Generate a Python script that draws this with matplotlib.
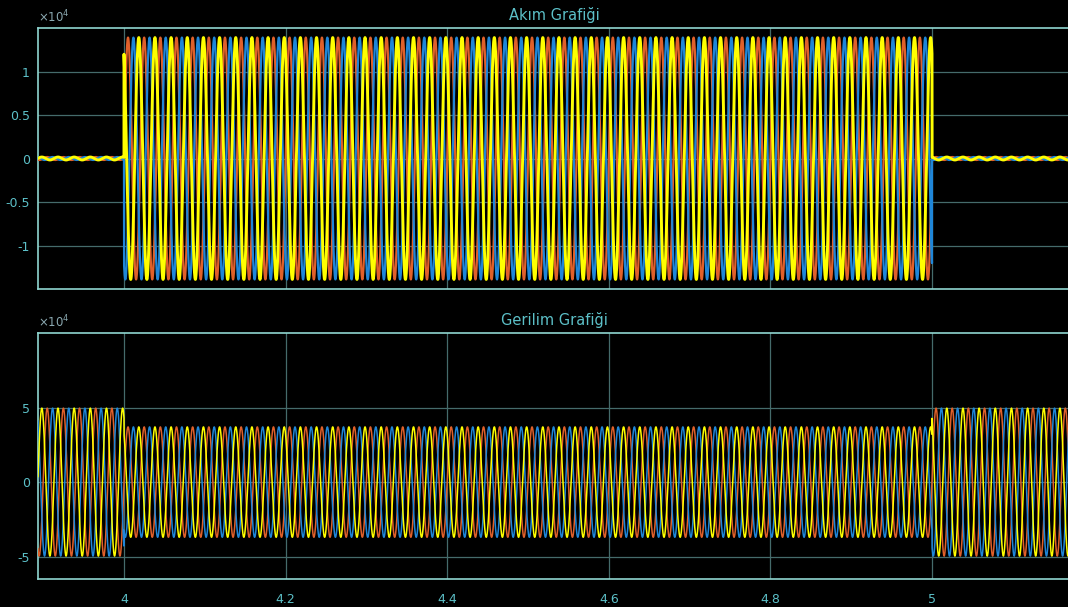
import numpy as np
import matplotlib
matplotlib.use("Agg")
import matplotlib.pyplot as plt

# ---- data ----
segment_edges = [3.85, 4.0, 5.0, 5.2]          # s: pre-fault, fault, post-fault
current_amp = [170.0, 13900.0, 170.0]          # A, per segment
voltage_amp = [49600.0, 37000.0, 49600.0]      # V, per segment
frequency_hz = 50.0
phase_deg = [0.0, -120.0, 120.0]               # three phases
phase_names = ["A", "B", "C"]
phase_colors = ["#e0602a", "#1f86d8", "#ffff00"]

current_yticks = [-1.0e4, -0.5e4, 0.0, 0.5e4, 1.0e4]
current_ylabels = ["-1", "-0.5", "0", "0.5", "1"]
voltage_yticks = [-5e4, 0.0, 5e4]
voltage_ylabels = ["-5", "0", "5"]
x_ticks = [4.0, 4.2, 4.4, 4.6, 4.8, 5.0]
x_labels = ["4", "4.2", "4.4", "4.6", "4.8", "5"]

titles = ["Akım Grafiği", "Gerilim Grafiği"]

# ---- signals ----
t = np.linspace(segment_edges[0], segment_edges[-1], 40000)
seg = np.clip(np.searchsorted(segment_edges, t, side="right") - 1, 0, 2)
cur_env = np.array(current_amp)[seg]
vol_env = np.array(voltage_amp)[seg]

def phase_wave(env, ph):
    return env * np.sin(2 * np.pi * frequency_hz * t + np.deg2rad(ph))

BG = "black"
SPINE = "#8fd6d0"
GRID = "#456b6b"
TXT = "#5cc0c8"
OFFS = "#8aa8b0"

fig = plt.figure(figsize=(10.68, 6.07), dpi=100, facecolor=BG)
ax1 = fig.add_axes([38 / 1068, 1 - 289 / 607, 1032 / 1068, 261 / 607])
ax2 = fig.add_axes([38 / 1068, 1 - 579 / 607, 1032 / 1068, 246 / 607])

xlim = (3.8936, 5.1708)

for ax, env, yt, yl, ylim, title, lw in [
    (ax1, cur_env, current_yticks, current_ylabels, (-1.5e4, 1.5e4), titles[0], 1.6),
    (ax2, vol_env, voltage_yticks, voltage_ylabels, (-6.5e4, 10e4), titles[1], 1.1),
]:
    ax.set_facecolor(BG)
    for ph, col, name in zip(phase_deg, phase_colors, phase_names):
        w = lw * (1.3 if (ax is ax1 and col == "#ffff00") else 1.0)
        ax.plot(t, phase_wave(env, ph), color=col, lw=w, label=name, zorder=3)
    ax.set_xlim(*xlim)
    ax.set_ylim(*ylim)
    ax.set_xticks(x_ticks)
    ax.set_yticks(yt)
    ax.set_yticklabels(yl)
    ax.grid(True, color=GRID, lw=0.9, zorder=1)
    ax.set_axisbelow(True)
    for s in ax.spines.values():
        s.set_color(SPINE)
        s.set_linewidth(1.2)
    ax.tick_params(colors=TXT, labelsize=9, length=0, pad=6)
    ax.set_title(title, color=TXT, fontsize=10.5, pad=6)
    ax.text(0.0, 1.01, r"$\times10^4$", transform=ax.transAxes, color=OFFS,
            fontsize=8.5, ha="left", va="bottom")

ax1.set_xticklabels([])
ax2.set_xticklabels(x_labels)
ax2.tick_params(axis="x", pad=10)

fig.savefig("out.png", dpi=100, facecolor=BG)
